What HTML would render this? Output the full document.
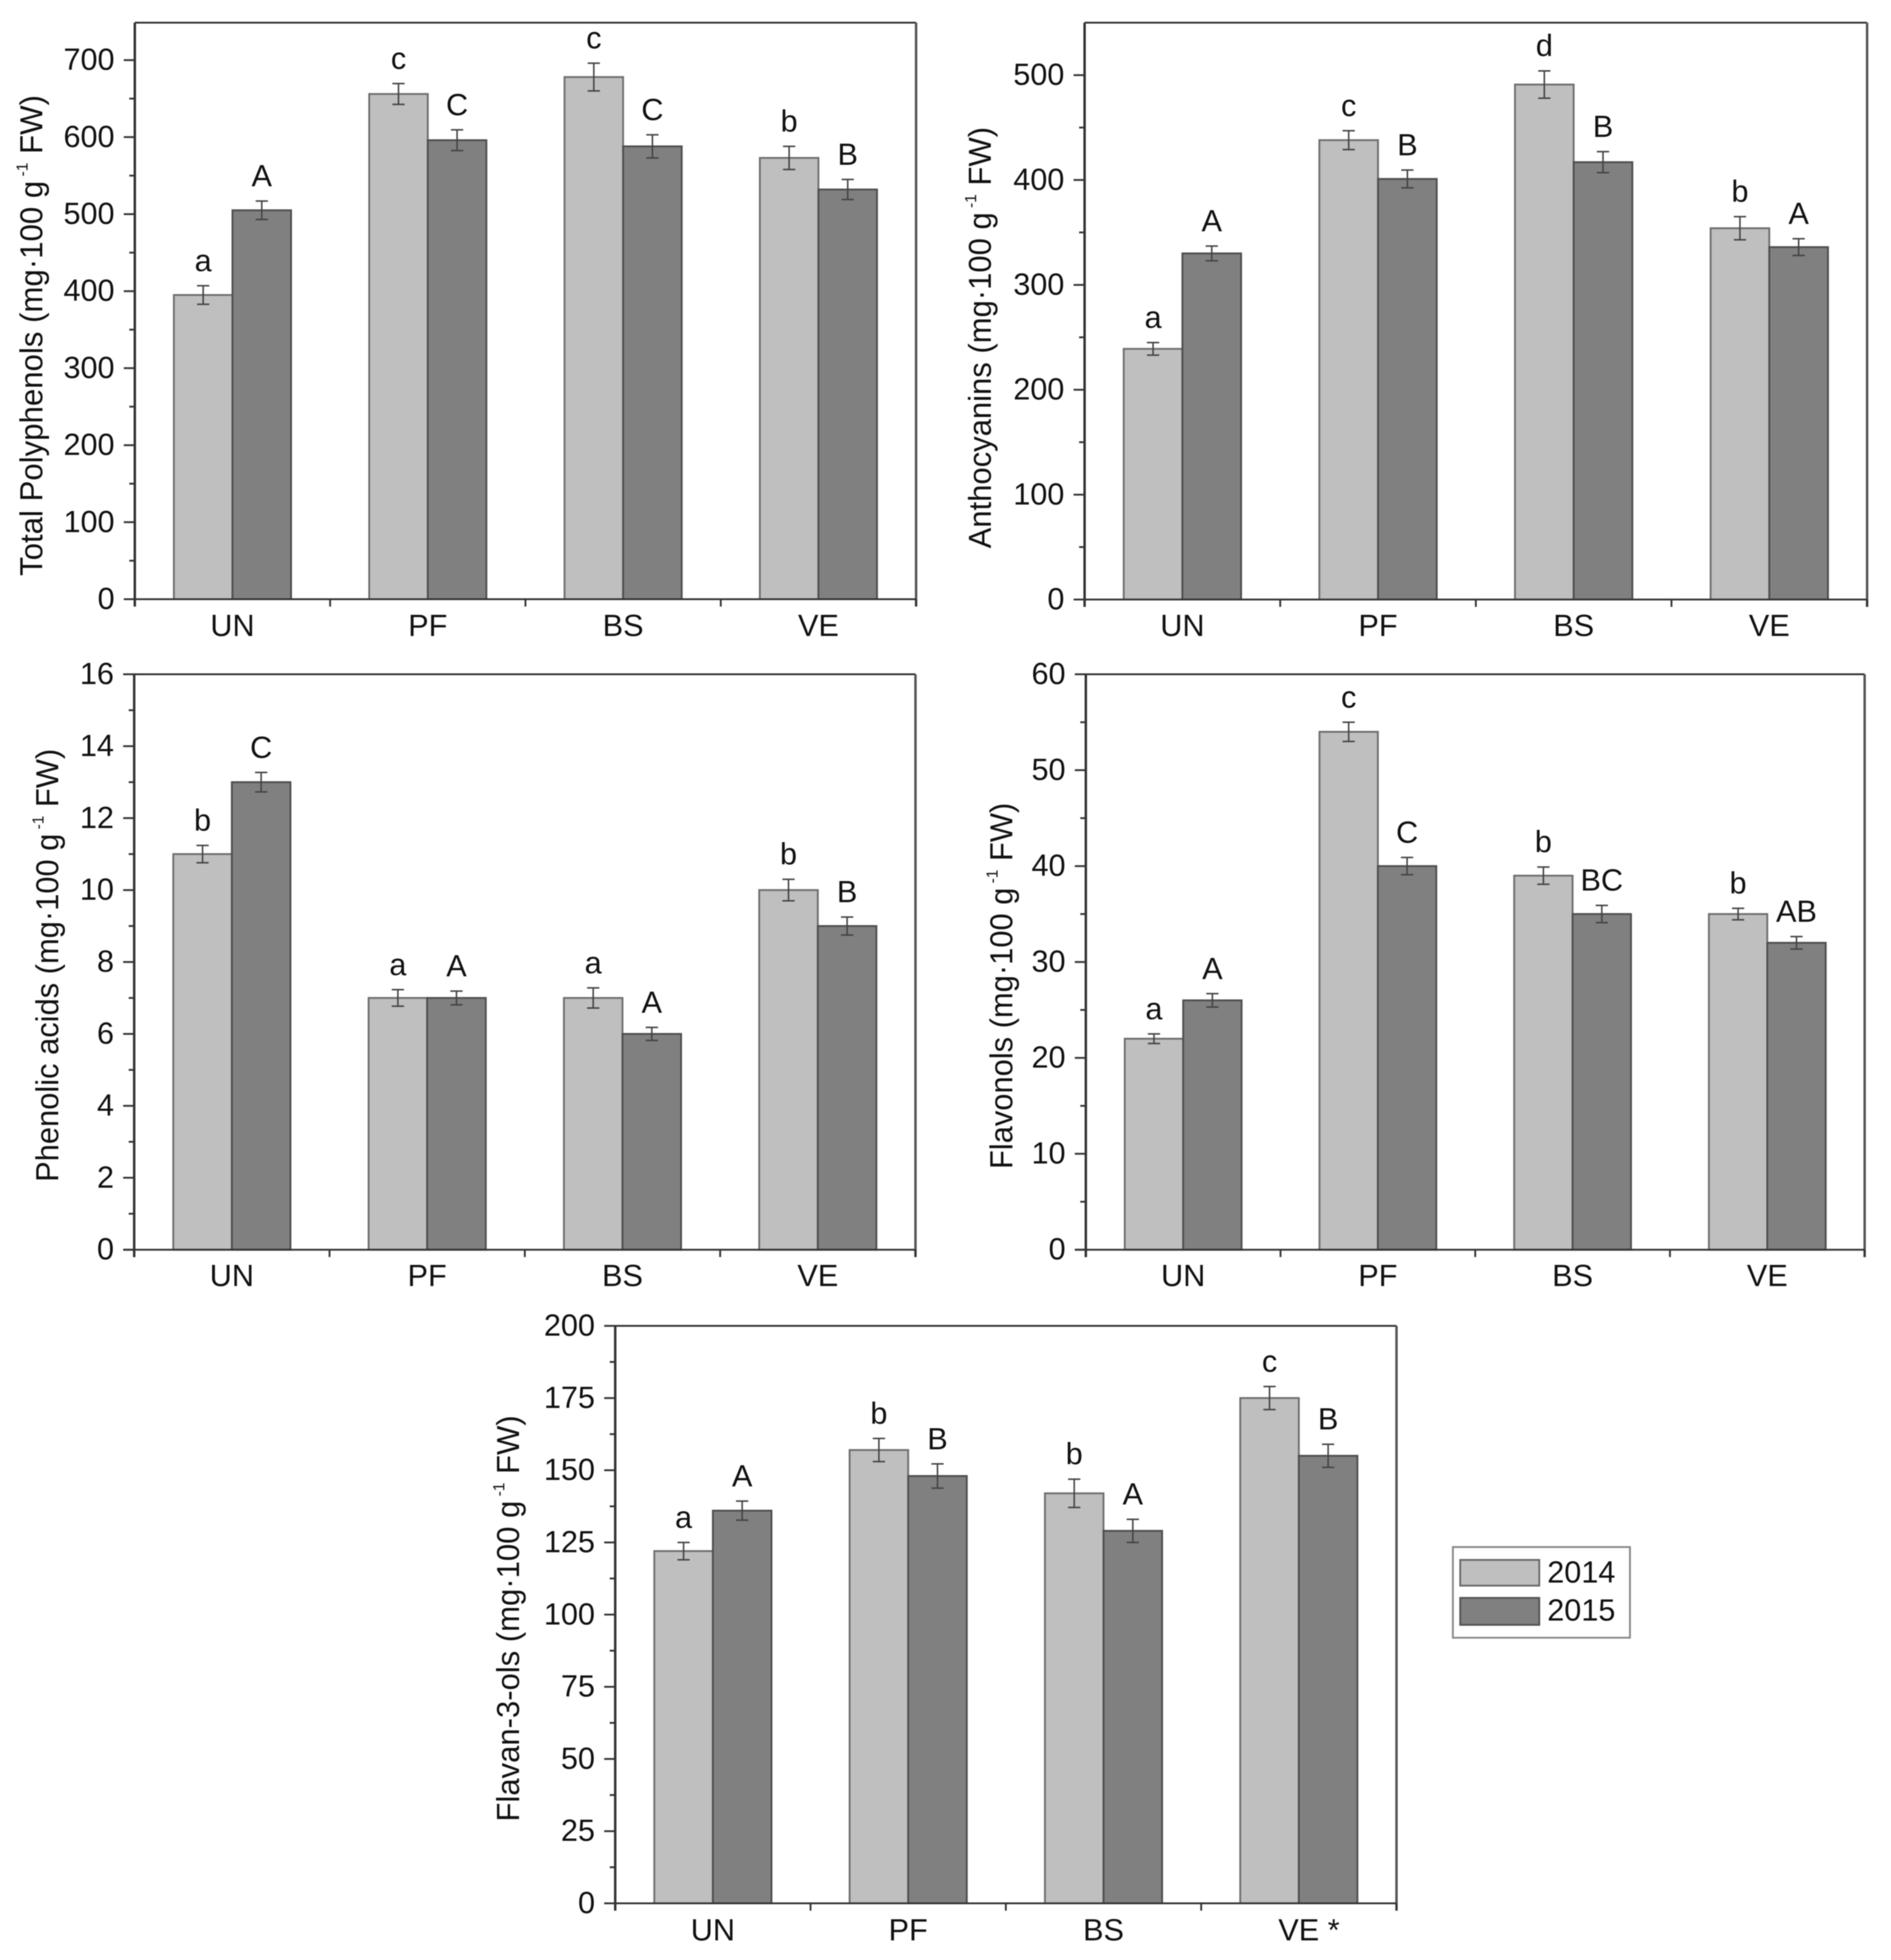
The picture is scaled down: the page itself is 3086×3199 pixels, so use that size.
<!DOCTYPE html>
<html lang="en">
<head>
<meta charset="utf-8">
<title>Polyphenol content by treatment, 2014 and 2015</title>
<style>
  html, body { margin: 0; padding: 0; background: #fff; }
  body { width: 3086px; height: 3199px; overflow: hidden; }
  svg { display: block; filter: blur(0.8px); }
  text { font-family: "Liberation Sans", sans-serif; fill: #111; }
</style>
</head>
<body>
<svg id="figure" xmlns="http://www.w3.org/2000/svg" width="3086" height="3199" viewBox="0 0 3086 3199">
  <g id="legend">
    <rect x="2371" y="2525" width="289" height="148" fill="#fff" stroke="#888" stroke-width="3"/>
    <rect x="2383" y="2546" width="129" height="42" fill="#bfbfbf" stroke="#6a6a6a" stroke-width="3"/>
    <text x="2525" y="2583" font-size="50">2014</text>
    <rect x="2383" y="2608" width="129" height="44" fill="#808080" stroke="#555" stroke-width="3"/>
    <text x="2525" y="2645" font-size="50">2015</text>
  </g>
</svg>
<script>
const categories = ['UN', 'PF', 'BS', 'VE'];
const years = ['2014', '2015'];

const polyphenols2014 = [395, 656, 678, 573];
const polyphenols2015 = [505, 596, 588, 532];
const polyphenolsErr2014 = [12, 13.5, 18, 15];
const polyphenolsErr2015 = [12, 13.5, 15, 13];
const polyphenolsLetters2014 = ['a', 'c', 'c', 'b'];
const polyphenolsLetters2015 = ['A', 'C', 'C', 'B'];
const polyphenolsTicks = [0, 100, 200, 300, 400, 500, 600, 700];

const anthocyanins2014 = [239, 438, 491, 354];
const anthocyanins2015 = [330, 401, 417, 336];
const anthocyaninsErr2014 = [6, 9, 13, 11];
const anthocyaninsErr2015 = [7, 8.5, 10, 8];
const anthocyaninsLetters2014 = ['a', 'c', 'd', 'b'];
const anthocyaninsLetters2015 = ['A', 'B', 'B', 'A'];
const anthocyaninsTicks = [0, 100, 200, 300, 400, 500];

const phenolic2014 = [11, 7, 7, 10];
const phenolic2015 = [13, 7, 6, 9];
const phenolicErr2014 = [0.24, 0.23, 0.28, 0.3];
const phenolicErr2015 = [0.27, 0.19, 0.18, 0.25];
const phenolicLetters2014 = ['b', 'a', 'a', 'b'];
const phenolicLetters2015 = ['C', 'A', 'A', 'B'];
const phenolicTicks = [0, 2, 4, 6, 8, 10, 12, 14, 16];

const flavonols2014 = [22, 54, 39, 35];
const flavonols2015 = [26, 40, 35, 32];
const flavonolsErr2014 = [0.5, 1, 0.9, 0.6];
const flavonolsErr2015 = [0.7, 0.9, 0.9, 0.65];
const flavonolsLetters2014 = ['a', 'c', 'b', 'b'];
const flavonolsLetters2015 = ['A', 'C', 'BC', 'AB'];
const flavonolsTicks = [0, 10, 20, 30, 40, 50, 60];

const flavanols2014 = [122, 157, 142, 175];
const flavanols2015 = [136, 148, 129, 155];
const flavanolsErr2014 = [3, 4, 4.9, 4];
const flavanolsErr2015 = [3.3, 4.2, 4, 4];
const flavanolsLetters2014 = ['a', 'b', 'b', 'c'];
const flavanolsLetters2015 = ['A', 'B', 'A', 'B'];
const flavanolsTicks = [0, 25, 50, 75, 100, 125, 150, 175, 200];

const panels = [
  { id: 'total-polyphenols', title: 'Total Polyphenols (mg\u00B7100 g', left: 220, right: 1495, top: 37, bottom: 978, yMax: 748.6,
    a: polyphenols2014, b: polyphenols2015, ea: polyphenolsErr2014, eb: polyphenolsErr2015, la: polyphenolsLetters2014, lb: polyphenolsLetters2015, ticks: polyphenolsTicks,
    labelX: 69, labelTop: 155, labelBottom: 940, xBase: 1038 },
  { id: 'anthocyanins', title: 'Anthocyanins (mg\u00B7100 g', left: 1770, right: 3047, top: 37, bottom: 978.5, yMax: 550,
    a: anthocyanins2014, b: anthocyanins2015, ea: anthocyaninsErr2014, eb: anthocyaninsErr2015, la: anthocyaninsLetters2014, lb: anthocyaninsLetters2015, ticks: anthocyaninsTicks,
    labelX: 1617, labelTop: 207, labelBottom: 895, xBase: 1038 },
  { id: 'phenolic-acids', title: 'Phenolic acids (mg\u00B7100 g', left: 219, right: 1494, top: 1100.5, bottom: 2039.7, yMax: 16,
    a: phenolic2014, b: phenolic2015, ea: phenolicErr2014, eb: phenolicErr2015, la: phenolicLetters2014, lb: phenolicLetters2015, ticks: phenolicTicks,
    labelX: 95, labelTop: 1222, labelBottom: 1929, xBase: 2099 },
  { id: 'flavonols', title: 'Flavonols (mg\u00B7100 g', left: 1772, right: 3043, top: 1100.5, bottom: 2039.7, yMax: 60,
    a: flavonols2014, b: flavonols2015, ea: flavonolsErr2014, eb: flavonolsErr2015, la: flavonolsLetters2014, lb: flavonolsLetters2015, ticks: flavonolsTicks,
    labelX: 1652, labelTop: 1310, labelBottom: 1908, xBase: 2099 },
  { id: 'flavan-3-ols', title: 'Flavan-3-ols (mg\u00B7100 g', left: 1004, right: 2279, top: 2164, bottom: 3106.5, yMax: 200,
    a: flavanols2014, b: flavanols2015, ea: flavanolsErr2014, eb: flavanolsErr2015, la: flavanolsLetters2014, lb: flavanolsLetters2015, ticks: flavanolsTicks,
    labelX: 847, labelTop: 2310, labelBottom: 2973, xBase: 3167, starLast: true }
];

const NS = 'http://www.w3.org/2000/svg';
const svg = document.getElementById('figure');

function mk(parent, tag, attrs, content) {
  const node = document.createElementNS(NS, tag);
  for (const k in attrs) node.setAttribute(k, attrs[k]);
  if (content !== undefined) node.textContent = content;
  parent.appendChild(node);
  return node;
}

panels.forEach(function (p) {
  const xScale = function (pos) { return p.left + (p.right - p.left) * pos / categories.length; };
  const yScale = function (v) { return p.bottom - (p.bottom - p.top) * v / p.yMax; };
  const step = xScale(1) - xScale(0);
  const barW = step * 0.3;

  const g = mk(svg, 'g', {});
  
  

  // bars and error bars
  categories.forEach(function (cat, i) {
    const cx = xScale(i + 0.5);
    [[p.a, p.ea, p.la, '#bfbfbf', '#6e6e6e', -1, 0], [p.b, p.eb, p.lb, '#808080', '#4e4e4e', 0, 1]].forEach(function (s, si) {
      const v = s[0][i], e = s[1][i];
      const x0 = cx + s[5] * barW;
      const top = yScale(v);
      const bar = mk(g, 'rect', { x: x0, y: top, width: barW, height: p.bottom - top, fill: s[3], stroke: s[4], 'stroke-width': 3 });
      
      
      const mid = x0 + barW / 2;
      const hi = yScale(v + e), lo = yScale(v - e);
      const err = mk(g, 'path', { d: 'M' + mid + ' ' + hi + 'V' + lo + 'M' + (mid - 10) + ' ' + hi + 'H' + (mid + 10) + 'M' + (mid - 10) + ' ' + lo + 'H' + (mid + 10), stroke: '#444', 'stroke-width': 2.5, fill: 'none' });
      
      
      const letter = mk(g, 'text', { x: mid, y: hi - 24, 'font-size': 50, 'text-anchor': 'middle' }, s[2][i]);
      
      
    });
  });

  // frame
  const frame = mk(g, 'path', { d: 'M' + p.left + ' ' + p.top + 'H' + p.right, stroke: '#333', 'stroke-width': 3, fill: 'none' });
  
  
  const rightBorder = mk(g, 'path', { d: 'M' + p.right + ' ' + p.top + 'V' + (p.bottom + 12), stroke: '#555', 'stroke-width': 4, fill: 'none' });
  
  
  const yAxis = mk(g, 'path', { d: 'M' + p.left + ' ' + p.top + 'V' + (p.bottom + 12), stroke: '#333', 'stroke-width': 4, fill: 'none' });
  
  
  const xAxis = mk(g, 'path', { d: 'M' + (p.left - 18) + ' ' + p.bottom + 'H' + p.right, stroke: '#333', 'stroke-width': 3, fill: 'none' });
  
  

  // y ticks
  p.ticks.forEach(function (t, i) {
    const y = yScale(t);
    const tick = mk(g, 'path', { d: 'M' + (p.left - 18) + ' ' + y + 'H' + p.left, stroke: '#333', 'stroke-width': 3 });
    
    
    const lab = mk(g, 'text', { x: p.left - 33, y: y + 16, 'font-size': 50, 'text-anchor': 'end' }, String(t));
    
    
    if (i < p.ticks.length - 1) {
      const my = yScale((t + p.ticks[i + 1]) / 2);
      const minor = mk(g, 'path', { d: 'M' + (p.left - 9) + ' ' + my + 'H' + p.left, stroke: '#333', 'stroke-width': 3 });
      
      
    }
  });

  // x ticks and labels
  for (let i = 0; i <= categories.length; i++) {
    const x = xScale(i);
    const xt = mk(g, 'path', { d: 'M' + x + ' ' + p.bottom + 'V' + (p.bottom + 12), stroke: '#333', 'stroke-width': 3 });
    
    
  }
  categories.forEach(function (cat, i) {
    const star = p.starLast && i === categories.length - 1;
    const xl = mk(g, 'text', { x: star ? xScale(i + 0.5) - 33.5 : xScale(i + 0.5), y: p.xBase, 'font-size': 50, 'text-anchor': star ? 'start' : 'middle' }, star ? cat + ' *' : cat);
    
    
  });

  // rotated y-axis title, horizontally condensed to the measured span
  const title = mk(g, 'text', { 'font-size': 52 });
  
  
  title.appendChild(document.createTextNode(p.title));
  mk(title, 'tspan', { dy: -24, 'font-size': 26 }, ' -1');
  mk(title, 'tspan', { dy: 24 }, ' FW)');
  const len = title.getComputedTextLength();
  const target = p.labelBottom - p.labelTop;
  title.setAttribute('transform', 'translate(' + p.labelX + ' ' + p.labelBottom + ') rotate(-90) scale(' + (target / len) + ' 1)');
});
</script>
</body>
</html>
